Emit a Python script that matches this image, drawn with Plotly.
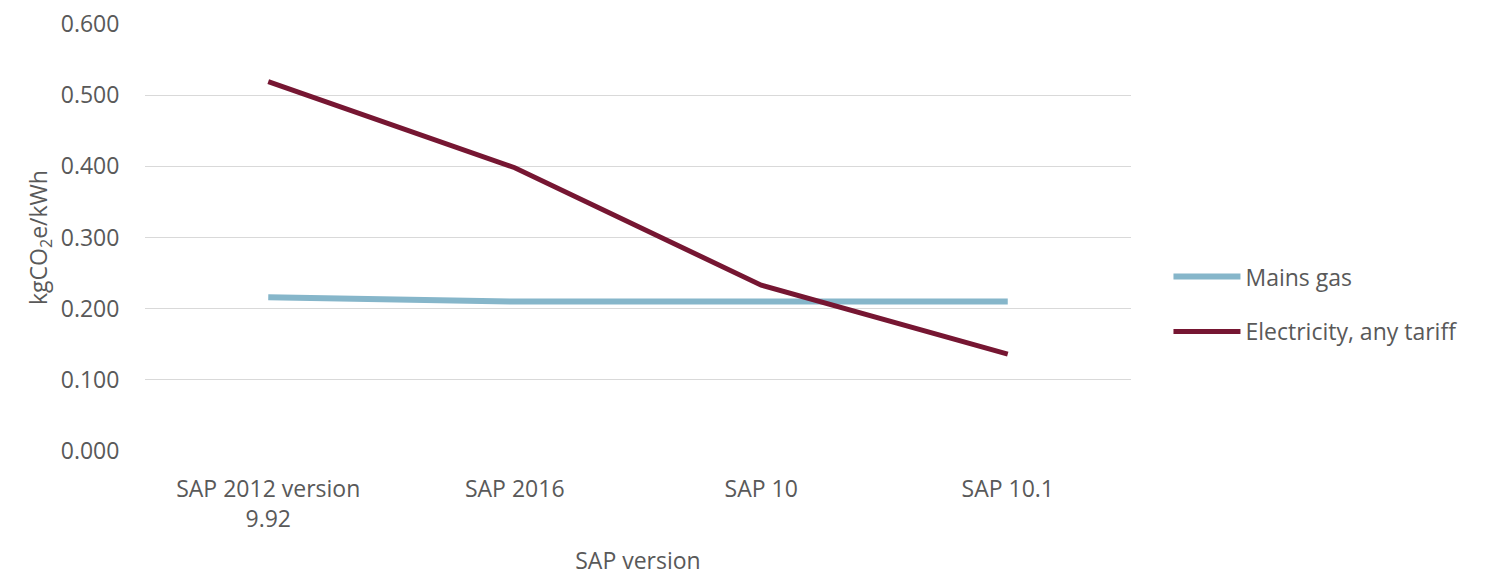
import plotly.graph_objects as go

# SAP versions on the x axis
versions = ["SAP 2012 version<br>9.92", "SAP 2016", "SAP 10", "SAP 10.1"]

# Carbon emission factors, kgCO2e/kWh
mains_gas = [0.216, 0.210, 0.210, 0.210]
electricity = [0.519, 0.398, 0.233, 0.136]

y_ticks = [0.0, 0.1, 0.2, 0.3, 0.4, 0.5, 0.6]

GAS_COLOR = "#86B6CA"
ELEC_COLOR = "#761632"
TEXT_COLOR = "#595959"
FONT = "Open Sans, Noto Sans, sans-serif"
FS = 23

fig = go.Figure()
fig.add_trace(go.Scatter(
    x=versions, y=mains_gas, mode="lines", name="Mains gas",
    legendgroup="gas",
    line=dict(color=GAS_COLOR, width=6),
))
fig.add_trace(go.Scatter(
    x=versions, y=electricity, mode="lines", name="Electricity, any tariff",
    legendgroup="elec",
    line=dict(color=ELEC_COLOR, width=5),
))

fig.update_layout(
    width=1493, height=576,
    margin=dict(l=145, r=362, t=24, b=125),
    plot_bgcolor="white", paper_bgcolor="white",
    font=dict(family=FONT, size=FS, color=TEXT_COLOR),
    legend=dict(
        x=1.038, y=0.344, xanchor="left", yanchor="middle",
        font=dict(size=FS, color=TEXT_COLOR),
        itemwidth=67, tracegroupgap=22,
        bgcolor="rgba(0,0,0,0)",
    ),
    xaxis=dict(
        type="category", range=[-0.5, 3.5], automargin=False,
        showgrid=False, showline=False, zeroline=False,
        ticks="outside", ticklen=17, tickcolor="rgba(0,0,0,0)",
        tickfont=dict(size=FS, color=TEXT_COLOR),
        title=dict(text="SAP version", font=dict(size=FS, color=TEXT_COLOR), standoff=30),
    ),
    yaxis=dict(
        range=[0, 0.6], tickvals=y_ticks, tickformat=".3f", automargin=False,
        showgrid=True, gridcolor="#D9D9D9", gridwidth=1,
        zeroline=False, showline=False,
        ticks="outside", ticklen=20, tickcolor="rgba(0,0,0,0)",
        tickfont=dict(size=FS, color=TEXT_COLOR),
        title=dict(text="kgCO<sub>2</sub>e/kWh", font=dict(size=FS, color=TEXT_COLOR), standoff=6),
    ),
)

fig.write_html("out.html")
